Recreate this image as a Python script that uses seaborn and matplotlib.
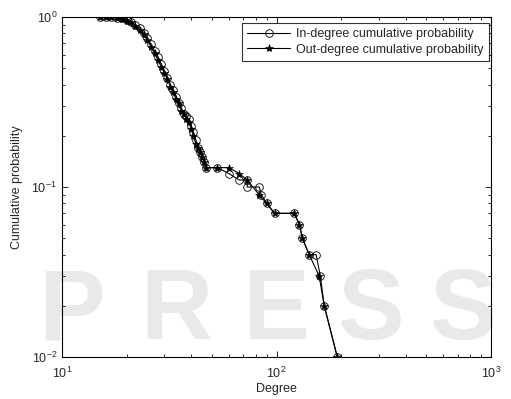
import numpy as np
import pandas as pd
import seaborn as sns
import matplotlib.pyplot as plt
from matplotlib.ticker import LogLocator, NullFormatter

# in-degree CCDF points
in_deg = [15, 16, 17, 18, 19, 20, 21, 22, 23, 24, 25, 26, 27, 28, 29, 30, 31, 32,
          33, 34, 35, 36, 37, 38, 39, 40, 41, 42, 43, 44, 45, 46, 47,
          53, 60, 67, 73, 73, 83, 85, 90, 98, 121, 128, 132, 142, 153, 160, 167, 192]
in_prob = [1.0, 1.0, 1.0, 0.99, 0.98, 0.96, 0.94, 0.90, 0.86, 0.80, 0.75, 0.69, 0.63,
           0.58, 0.53, 0.48, 0.44, 0.40, 0.37, 0.34, 0.31, 0.29, 0.27, 0.26, 0.25,
           0.23, 0.21, 0.19, 0.17, 0.16, 0.15, 0.14, 0.13,
           0.13, 0.12, 0.11, 0.11, 0.10, 0.10, 0.09, 0.08, 0.07, 0.07, 0.06, 0.05,
           0.04, 0.04, 0.03, 0.02, 0.01]

# out-degree CCDF points
out_deg = [15, 16, 17, 18, 19, 20, 21, 22, 23, 24, 25, 26, 27, 28, 29, 30, 31, 32,
           33, 34, 35, 36, 37, 38, 39, 40, 41, 42, 43, 44, 45, 46, 47,
           53, 60, 67, 73, 83, 90, 98, 121, 128, 132, 142, 158, 167, 192]
out_prob = [1.0, 1.0, 1.0, 0.99, 0.97, 0.95, 0.93, 0.89, 0.84, 0.79, 0.73, 0.67, 0.61,
            0.56, 0.51, 0.47, 0.43, 0.39, 0.36, 0.33, 0.31, 0.28, 0.27, 0.25, 0.24,
            0.22, 0.20, 0.18, 0.17, 0.16, 0.15, 0.14, 0.13,
            0.13, 0.13, 0.12, 0.11, 0.09, 0.08, 0.07, 0.07, 0.06, 0.05,
            0.04, 0.03, 0.02, 0.01]

# background watermark letters and their centres (figure fraction)
wm_letters = ['P', 'R', 'E', 'S', 'S']
wm_x = [0.14, 0.345, 0.54, 0.725, 0.905]

sns.set_theme(style="ticks")
plt.rcParams['font.family'] = ['Liberation Sans', 'DejaVu Sans']
plt.rcParams['xtick.direction'] = 'in'
plt.rcParams['ytick.direction'] = 'in'
plt.rcParams['mathtext.default'] = 'regular'

df_in = pd.DataFrame({'deg': in_deg, 'p': in_prob})
df_out = pd.DataFrame({'deg': out_deg, 'p': out_prob})

fig, ax = plt.subplots(figsize=(5.11, 3.99), dpi=100)
fig.subplots_adjust(left=62/511, right=491/511, top=1-17/399, bottom=1-357/399)

# faint watermark, kept behind the axes
for letter, xc in zip(wm_letters, wm_x):
    fig.text(xc, 0.215, letter, ha='center', va='center', fontsize=72,
             fontweight='bold', color='#e9e9e9', zorder=0)
ax.set_zorder(2)
ax.set_facecolor('none')

sns.lineplot(data=df_in, x='deg', y='p', ax=ax, sort=False, estimator=None,
             color='black', lw=0.8, marker='o', markersize=5.5,
             markerfacecolor='none', markeredgecolor='black', markeredgewidth=0.6,
             label='In-degree cumulative probability')
sns.lineplot(data=df_out, x='deg', y='p', ax=ax, sort=False, estimator=None,
             color='black', lw=0.8, marker='*', markersize=6,
             markeredgecolor='black', markeredgewidth=0.4,
             label='Out-degree cumulative probability')

ax.set_xscale('log')
ax.set_yscale('log')
ax.set_xlim(10, 1000)
ax.set_ylim(0.01, 1)
ax.xaxis.set_major_locator(LogLocator(base=10, numticks=5))
ax.yaxis.set_major_locator(LogLocator(base=10, numticks=5))
ax.xaxis.set_minor_locator(LogLocator(base=10, subs=np.arange(2, 10), numticks=20))
ax.yaxis.set_minor_locator(LogLocator(base=10, subs=np.arange(2, 10), numticks=20))
ax.xaxis.set_minor_formatter(NullFormatter())
ax.yaxis.set_minor_formatter(NullFormatter())
ax.tick_params(which='both', top=True, right=True, labelsize=9, color='black')
ax.tick_params(axis='x', which='major', pad=6)
ax.tick_params(which='major', length=4, width=0.6)
ax.tick_params(which='minor', length=2, width=0.6)
for s in ax.spines.values():
    s.set_linewidth(0.8)
    s.set_color('black')

ax.set_xlabel('Degree', fontsize=9, labelpad=2)
ax.set_ylabel('Cumulative probability', fontsize=9, labelpad=6)

leg = ax.legend(loc='upper right', fontsize=9, frameon=True, fancybox=False,
                edgecolor='black', handlelength=3.4, handletextpad=0.5,
                borderpad=0.4, labelspacing=0.3, borderaxespad=0.2,
                bbox_to_anchor=(1.0, 0.99))
leg.get_frame().set_linewidth(0.8)

plt.savefig('out.png', dpi=100)
